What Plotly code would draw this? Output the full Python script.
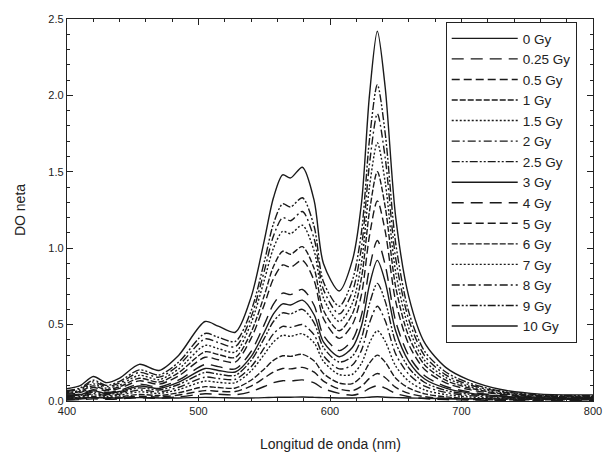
import plotly.graph_objects as go

wavelength = [400, 410, 420, 430, 440, 455, 470, 485, 505, 515, 528, 540, 550, 557, 564, 570,
              579, 588, 595, 607, 617, 624, 630, 636, 642, 650, 660, 672, 688, 705, 730, 760, 800]

doses = ["0 Gy", "0.25 Gy", "0.5 Gy", "1 Gy", "1.5 Gy", "2 Gy", "2.5 Gy", "3 Gy",
         "4 Gy", "5 Gy", "6 Gy", "7 Gy", "8 Gy", "9 Gy", "10 Gy"]

od_0 = [0.02, 0.02, 0.022, 0.02, 0.02, 0.022, 0.02, 0.02, 0.024, 0.022, 0.02, 0.02, 0.022, 0.024, 0.025, 0.025,
        0.026, 0.024, 0.022, 0.02, 0.02, 0.022, 0.025, 0.028, 0.025, 0.022, 0.02, 0.018, 0.016, 0.015, 0.014, 0.013, 0.013]
od_025 = [0.007, 0.009, 0.014, 0.011, 0.014, 0.022, 0.018, 0.027, 0.047, 0.044, 0.041, 0.061, 0.095, 0.12, 0.133, 0.131,
          0.138, 0.118, 0.081, 0.05, 0.038, 0.053, 0.082, 0.10, 0.084, 0.049, 0.028, 0.016, 0.009, 0.006, 0.005, 0.005, 0.005]
od_05 = [0.01, 0.013, 0.021, 0.016, 0.02, 0.031, 0.026, 0.039, 0.068, 0.064, 0.062, 0.098, 0.151, 0.19, 0.213, 0.21,
         0.22, 0.189, 0.13, 0.079, 0.068, 0.096, 0.148, 0.18, 0.152, 0.089, 0.05, 0.028, 0.016, 0.01, 0.008, 0.008, 0.008]
od_1 = [0.014, 0.018, 0.029, 0.022, 0.027, 0.043, 0.036, 0.054, 0.094, 0.088, 0.085, 0.136, 0.21, 0.266, 0.296, 0.292,
        0.306, 0.262, 0.18, 0.117, 0.114, 0.161, 0.248, 0.30, 0.254, 0.149, 0.084, 0.047, 0.027, 0.017, 0.012, 0.011, 0.01]
od_15 = [0.02, 0.025, 0.04, 0.03, 0.038, 0.06, 0.05, 0.075, 0.13, 0.122, 0.12, 0.197, 0.305, 0.386, 0.43, 0.423,
         0.44, 0.38, 0.26, 0.173, 0.175, 0.247, 0.38, 0.46, 0.39, 0.228, 0.129, 0.072, 0.042, 0.027, 0.018, 0.014, 0.013]
od_2 = [0.024, 0.03, 0.048, 0.036, 0.045, 0.072, 0.06, 0.09, 0.156, 0.147, 0.142, 0.224, 0.347, 0.44, 0.488, 0.482,
        0.50, 0.432, 0.297, 0.21, 0.236, 0.333, 0.512, 0.62, 0.525, 0.307, 0.174, 0.097, 0.056, 0.036, 0.022, 0.016, 0.015]
od_25 = [0.029, 0.036, 0.058, 0.043, 0.054, 0.086, 0.072, 0.108, 0.187, 0.176, 0.168, 0.265, 0.41, 0.52, 0.577, 0.57,
         0.60, 0.51, 0.35, 0.255, 0.293, 0.413, 0.636, 0.77, 0.652, 0.382, 0.216, 0.121, 0.07, 0.045, 0.027, 0.019, 0.017]
od_3 = [0.033, 0.041, 0.066, 0.049, 0.062, 0.098, 0.082, 0.123, 0.213, 0.20, 0.19, 0.29, 0.45, 0.57, 0.636, 0.628,
        0.66, 0.563, 0.387, 0.29, 0.35, 0.494, 0.76, 0.92, 0.78, 0.456, 0.258, 0.144, 0.084, 0.053, 0.031, 0.021, 0.019]
od_4 = [0.037, 0.046, 0.074, 0.055, 0.069, 0.11, 0.092, 0.138, 0.239, 0.225, 0.21, 0.324, 0.50, 0.634, 0.706, 0.696,
        0.73, 0.625, 0.43, 0.33, 0.40, 0.564, 0.868, 1.05, 0.89, 0.52, 0.295, 0.165, 0.095, 0.061, 0.035, 0.023, 0.021]
od_5 = [0.044, 0.055, 0.088, 0.066, 0.083, 0.132, 0.11, 0.165, 0.286, 0.27, 0.255, 0.41, 0.63, 0.80, 0.89, 0.876,
        0.92, 0.786, 0.54, 0.41, 0.50, 0.70, 1.08, 1.31, 1.11, 0.65, 0.368, 0.206, 0.119, 0.076, 0.043, 0.027, 0.025]
od_6 = [0.05, 0.062, 0.099, 0.074, 0.093, 0.149, 0.124, 0.186, 0.322, 0.304, 0.285, 0.45, 0.69, 0.88, 0.98, 0.96,
        1.01, 0.865, 0.594, 0.46, 0.57, 0.81, 1.24, 1.50, 1.27, 0.744, 0.42, 0.236, 0.136, 0.087, 0.048, 0.03, 0.027]
od_7 = [0.056, 0.07, 0.112, 0.084, 0.105, 0.168, 0.14, 0.21, 0.364, 0.343, 0.32, 0.51, 0.79, 1.0, 1.11, 1.095,
        1.15, 0.98, 0.675, 0.52, 0.64, 0.91, 1.40, 1.69, 1.43, 0.84, 0.475, 0.265, 0.154, 0.098, 0.054, 0.033, 0.03]
od_8 = [0.062, 0.078, 0.125, 0.094, 0.117, 0.187, 0.156, 0.234, 0.406, 0.382, 0.356, 0.55, 0.85, 1.08, 1.20, 1.18,
        1.24, 1.06, 0.73, 0.57, 0.715, 1.01, 1.55, 1.88, 1.59, 0.93, 0.53, 0.295, 0.171, 0.109, 0.06, 0.036, 0.032]
od_9 = [0.068, 0.085, 0.136, 0.102, 0.128, 0.204, 0.17, 0.255, 0.442, 0.417, 0.39, 0.59, 0.91, 1.16, 1.29, 1.27,
        1.33, 1.14, 0.78, 0.62, 0.79, 1.11, 1.71, 2.07, 1.75, 1.03, 0.58, 0.325, 0.19, 0.12, 0.065, 0.04, 0.035]
od_10 = [0.08, 0.10, 0.16, 0.12, 0.15, 0.24, 0.20, 0.30, 0.52, 0.49, 0.45, 0.68, 1.05, 1.33, 1.48, 1.46,
         1.53, 1.31, 0.90, 0.72, 0.92, 1.30, 2.00, 2.42, 2.05, 1.20, 0.68, 0.38, 0.22, 0.14, 0.075, 0.045, 0.04]

series = [od_0, od_025, od_05, od_1, od_15, od_2, od_25, od_3, od_4, od_5, od_6, od_7, od_8, od_9, od_10]

dash_styles = ["solid", "12px,7px", "8px,4px", "6px,2px", "2px,2px", "8px,3px,2px,3px",
               "8px,2px,2px,2px,2px,2px", "solid", "12px,7px", "8px,4px", "6px,2px", "2px,2px",
               "8px,3px,2px,3px", "8px,2px,2px,2px,2px,2px", "solid"]

fig = go.Figure()
for name, vals, dash in zip(doses, series, dash_styles):
    fig.add_trace(go.Scatter(
        x=wavelength, y=vals, name=name, mode="lines",
        line=dict(color="#1a1a1a", width=1.4, dash=dash, shape="spline", smoothing=0.8),
    ))

axis_common = dict(
    showline=True, linecolor="#222", linewidth=1.3, mirror="ticks",
    ticks="inside", ticklen=6, tickcolor="#222", showgrid=False, zeroline=False,
    tickfont=dict(family="Liberation Sans, Arial", size=11, color="#222"),
)

fig.update_layout(
    width=614, height=455,
    margin=dict(l=67, r=14, t=19, b=54),
    paper_bgcolor="white", plot_bgcolor="white",
    font=dict(family="Liberation Sans, Arial", color="#222"),
    xaxis=dict(range=[400, 800], dtick=100, tick0=400,
               minor=dict(dtick=20, ticks="inside", ticklen=3, tickcolor="#222"),
               **axis_common),
    yaxis=dict(range=[0, 2.5], dtick=0.5, tick0=0, tickformat=".1f",
               minor=dict(dtick=0.1, ticks="inside", ticklen=3, tickcolor="#222"),
               title=dict(text="DO neta", font=dict(size=14), standoff=19),
               **axis_common),
    legend=dict(
        x=0.72, y=0.992, xanchor="left", yanchor="top",
        bordercolor="#222", borderwidth=1, bgcolor="white",
        font=dict(family="Liberation Sans, Arial", size=13.5, color="#222"),
        itemwidth=66, tracegroupgap=0,
        entrywidth=68, entrywidthmode="pixels",
    ),
    annotations=[dict(
        text="Longitud de onda (nm)", xref="paper", yref="paper",
        x=0.5, y=-0.1126, xanchor="center", yanchor="middle", showarrow=False,
        font=dict(family="Liberation Sans, Arial", size=14, color="#222"),
    )],
    showlegend=True,
)

fig.write_html("out.html")
